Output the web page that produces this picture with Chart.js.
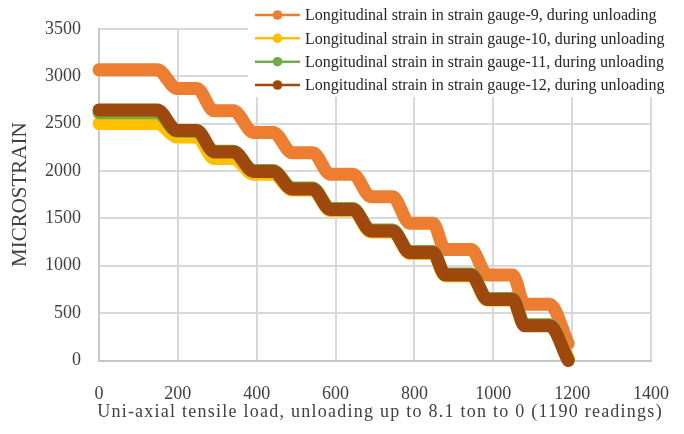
<!DOCTYPE html>
<html>
<head>
<meta charset="utf-8">
<script src="https://cdn.jsdelivr.net/npm/chart.js@4"></script>
<style>
  html,body{margin:0;padding:0;background:#fff;}
  #wrap{width:684px;height:434px;}
</style>
</head>
<body>
<div id="wrap"><canvas id="grafico" width="684" height="434"></canvas></div>
<script>
// Datos (escalones de descarga)
const inicioEscalon=[0,198,292,392,490,587,690,788,878,985,1080];
const finEscalon=[148,248,341,442,542,644,745,847,944,1049,1143];
const xFinal=1190;

const nombres=[
  "Longitudinal strain in strain gauge-9, during unloading",
  "Longitudinal strain in strain gauge-10, during unloading",
  "Longitudinal strain in strain gauge-11, during unloading",
  "Longitudinal strain in strain gauge-12, during unloading"
];
const colores=["#ED7D31","#FFC000","#70AD47","#9E480E"];

const galga9=[3067,2871,2634,2407,2191,1964,1727,1448,1170,902,593,180];
const galga10=[2500,2358,2132,1965,1800,1583,1356,1130,895,638,372,30];
const galga11=[2615,2420,2208,2005,1819,1603,1376,1149,912,654,376,10];
const galga12=[2644,2427,2201,1995,1809,1593,1366,1139,902,644,366,0];

const ticksX=[0,200,400,600,800,1000,1200,1400];
const ticksY=[0,500,1000,1500,2000,2500,3000,3500];
const tituloX="Uni-axial tensile load, unloading up to 8.1 ton to 0 (1190 readings)";
const tituloY="MICROSTRAIN";

function armarSerie(niveles){
  const puntos=[];
  for(let i=0;i<inicioEscalon.length;i++){
    puntos.push({x:inicioEscalon[i],y:niveles[i]});
    puntos.push({x:finEscalon[i],y:niveles[i]});
  }
  puntos.push({x:xFinal,y:niveles[niveles.length-1]});
  return puntos;
}

const fuente='"Liberation Serif","Times New Roman",serif';
const series=[galga9,galga10,galga11,galga12];

// Leyenda propia (linea + punto) y titulo X espaciado, como en Excel
const leyenda={
  id:"leyenda",
  afterDraw(chart){
    const c=chart.ctx;
    c.save();
    c.fillStyle="#fff";
    c.fillRect(248,0,436,97);
    const filas=[15,38.3,61.7,85];
    nombres.forEach((n,i)=>{
      const y=filas[i];
      c.strokeStyle=colores[i];
      c.lineWidth=2.6;
      c.beginPath();c.moveTo(255,y);c.lineTo(300,y);c.stroke();
      c.fillStyle=colores[i];
      c.beginPath();c.arc(277.5,y,4.8,0,Math.PI*2);c.fill();
      c.fillStyle="#262626";
      c.font="16px "+fuente;
      c.textBaseline="middle";
      c.fillText(n,305,y+1);
    });
    c.restore();

    c.save();
    c.font="18px "+fuente;
    c.fillStyle="#404040";
    c.textAlign="center";
    c.textBaseline="alphabetic";
    if("letterSpacing" in c) c.letterSpacing="1.25px";
    c.fillText(tituloX,380,416.5);
    c.restore();
  }
};

const ctx=document.getElementById("grafico").getContext("2d");
new Chart(ctx,{
  type:"line",
  data:{
    datasets:series.map((s,i)=>({
      label:nombres[i],
      data:armarSerie(s),
      borderColor:colores[i],
      backgroundColor:colores[i],
      borderWidth:13,
      borderCapStyle:"round",
      borderJoinStyle:"round",
      pointRadius:0,
      tension:0.4,
      cubicInterpolationMode:"monotone",
      clip:false,
      order:4-i
    }))
  },
  options:{
    responsive:false,
    animation:false,
    events:[],
    layout:{padding:{left:8,top:21.5,right:33,bottom:0}},
    plugins:{legend:{display:false},tooltip:{enabled:false}},
    scales:{
      x:{
        type:"linear",min:0,max:1400,
        afterBuildTicks(scale){scale.ticks=ticksX.map(v=>({value:v}));},
        afterFit(scale){scale.height=73.5;scale.paddingLeft=0;scale.paddingRight=0;},
        grid:{color:"#d9d9d9",lineWidth:2,drawTicks:false},
        border:{color:"#c8c8c8",width:2},
        ticks:{color:"#404040",font:{family:fuente,size:18},padding:23,maxRotation:0,callback:v=>String(v)},
        title:{display:false}
      },
      y:{
        min:0,max:3500,
        afterBuildTicks(scale){scale.ticks=ticksY.map(v=>({value:v}));},
        afterFit(scale){scale.width=91;},
        grid:{color:"#d9d9d9",lineWidth:2,drawTicks:false},
        border:{color:"#c8c8c8",width:2},
        ticks:{color:"#404040",font:{family:fuente,size:18},padding:18,callback:v=>String(v)},
        title:{display:true,text:tituloY,color:"#404040",font:{family:fuente,size:21},padding:0}
      }
    }
  },
  plugins:[leyenda]
});
</script>
</body>
</html>
